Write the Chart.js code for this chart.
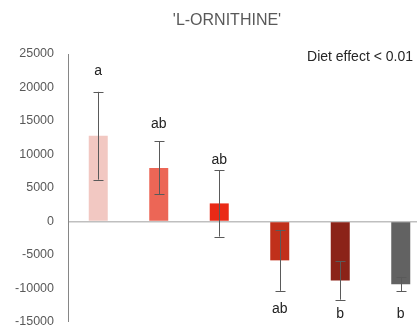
<!DOCTYPE html>
<html>
<head>
<meta charset="utf-8">
<script src="https://cdn.jsdelivr.net/npm/chart.js@4/dist/chart.umd.min.js"></script>
<style>
  html, body { margin: 0; padding: 0; background: #fff; overflow: hidden; }
  #wrap { width: 455px; height: 330px; }
</style>
</head>
<body>
<div id="wrap"><canvas id="c" width="455" height="330"></canvas></div>
<script>
// ---- data ----
const chartTitle = "'L-ORNITHINE'";
const noteText = 'Diet effect < 0.01';
const categories = ['Diet 1', 'Diet 2', 'Diet 3', 'Diet 4', 'Diet 5', 'Diet 6'];
const means = [12800, 8000, 2700, -5800, -8800, -9350];
const errors = [6550, 3950, 4950, 4550, 2870, 1080];
const letters = ['a', 'ab', 'ab', 'ab', 'b', 'b'];
const letterBaselines = [21800, 13900, 8650, -13600, -14400, -14400];
const barColors = ['#F2C8C2', '#EC6656', '#EA2A16', '#C0301B', '#8B2318', '#626262'];
const yMin = -15000, yMax = 25000, yStep = 5000;

const FONT = '"Liberation Sans", Arial, sans-serif';

const overlay = {
  id: 'overlay',
  afterDatasetsDraw(chart) {
    const ctx = chart.ctx;
    const y = chart.scales.y;
    const meta = chart.getDatasetMeta(0);
    ctx.save();
    // error bars
    ctx.strokeStyle = '#5A5A5A';
    ctx.lineWidth = 1;
    meta.data.forEach((bar, i) => {
      const x = Math.round(bar.x) + 0.5;
      const top = y.getPixelForValue(means[i] + errors[i]);
      const bot = y.getPixelForValue(means[i] - errors[i]);
      ctx.beginPath();
      ctx.moveTo(x, top); ctx.lineTo(x, bot);
      ctx.moveTo(x - 5, Math.round(top) + 0.5); ctx.lineTo(x + 5, Math.round(top) + 0.5);
      ctx.moveTo(x - 5, Math.round(bot) + 0.5); ctx.lineTo(x + 5, Math.round(bot) + 0.5);
      ctx.stroke();
    });
    // letters
    ctx.fillStyle = '#222222';
    ctx.font = '14px ' + FONT;
    ctx.textAlign = 'center';
    ctx.textBaseline = 'alphabetic';
    meta.data.forEach((bar, i) => {
      ctx.fillText(letters[i], bar.x, y.getPixelForValue(letterBaselines[i]));
    });
    // title
    ctx.fillStyle = '#595959';
    ctx.font = '16px ' + FONT;
    ctx.fillText(chartTitle, 227, 24.5);
    // note
    ctx.fillStyle = '#262626';
    ctx.font = '14px ' + FONT;
    ctx.textAlign = 'right';
    ctx.fillText(noteText, 413, 61);
    ctx.restore();
  }
};

new Chart(document.getElementById('c'), {
  type: 'bar',
  data: {
    labels: categories,
    datasets: [{
      data: means,
      backgroundColor: barColors,
      borderWidth: 0,
      barPercentage: 0.314,
      categoryPercentage: 1.0
    }]
  },
  options: {
    responsive: false,
    animation: false,
    devicePixelRatio: 1,
    layout: { padding: { top: 54, right: 24, bottom: 8, left: 0 } },
    plugins: { legend: { display: false }, tooltip: { enabled: false }, title: { display: false } },
    scales: {
      x: { display: false },
      y: {
        min: yMin, max: yMax,
        afterFit(s) { s.width = 68; s.paddingTop = 0; s.paddingBottom = 0; },
        ticks: {
          stepSize: yStep,
          padding: 14,
          color: '#595959',
          font: { family: FONT, size: 12.5 },
          callback: (v) => String(v)
        },
        grid: {
          drawTicks: false,
          color: (c) => (c.tick && c.tick.value === 0) ? '#BFBFBF' : 'rgba(0,0,0,0)',
          lineWidth: (c) => (c.tick && c.tick.value === 0) ? 1.5 : 0
        },
        border: { display: true, color: '#868686', width: 1 }
      }
    }
  },
  plugins: [overlay]
});
</script>
</body>
</html>
